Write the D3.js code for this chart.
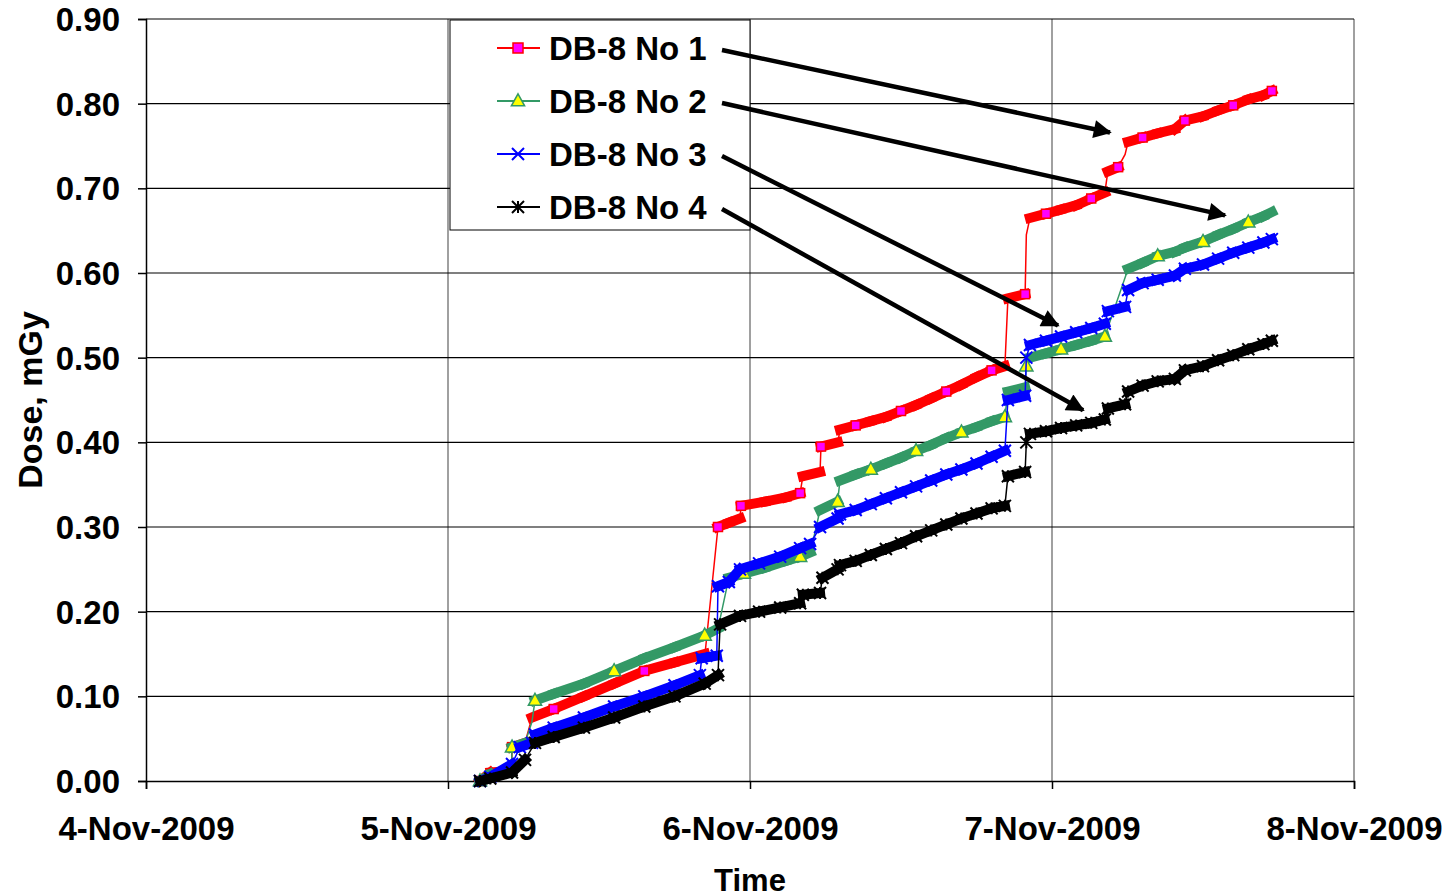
<!DOCTYPE html>
<html><head><meta charset="utf-8">
<script src="https://cdn.jsdelivr.net/npm/d3@7"></script>
<style>body{margin:0;background:#fff}text{font-family:Arial,"Liberation Sans",sans-serif;font-weight:bold}</style>
</head><body><svg id="c" width="1450" height="895"></svg>
<script>
// days since 4-Nov-2009 00:00, dose in mGy
var no1 = [[1.106,0],[1.14,0.01],[1.21,0.012],[1.212,0.04],[1.255,0.045],[1.278,0.075],[1.35,0.085],[1.45,0.10],[1.55,0.115],[1.65,0.13],[1.75,0.14],[1.851,0.15],[1.894,0.30],[1.93,0.305],[1.967,0.31],[1.97,0.325],[2.05,0.33],[2.12,0.335],[2.166,0.34],[2.175,0.36],[2.232,0.365],[2.235,0.395],[2.291,0.40],[2.298,0.415],[2.35,0.42],[2.40,0.425],[2.45,0.43],[2.50,0.437],[2.55,0.444],[2.60,0.452],[2.65,0.46],[2.70,0.468],[2.75,0.477],[2.80,0.485],[2.844,0.49],[2.854,0.57],[2.911,0.575],[2.915,0.645],[2.927,0.665],[2.98,0.67],[3.03,0.675],[3.08,0.68],[3.13,0.688],[3.175,0.695],[3.185,0.72],[3.219,0.725],[3.242,0.74],[3.252,0.755],[3.30,0.76],[3.35,0.765],[3.407,0.77],[3.44,0.78],[3.50,0.785],[3.55,0.792],[3.60,0.798],[3.65,0.805],[3.70,0.81],[3.728,0.815]];
var no2 = [[1.106,0],[1.14,0.008],[1.21,0.01],[1.212,0.04],[1.255,0.045],[1.278,0.07],[1.288,0.095],[1.35,0.103],[1.45,0.115],[1.55,0.13],[1.65,0.145],[1.75,0.158],[1.85,0.172],[1.894,0.18],[1.93,0.24],[1.98,0.245],[2.05,0.252],[2.12,0.26],[2.166,0.265],[2.20,0.27],[2.232,0.32],[2.29,0.33],[2.298,0.355],[2.35,0.362],[2.40,0.368],[2.45,0.375],[2.50,0.382],[2.55,0.39],[2.60,0.397],[2.65,0.405],[2.70,0.412],[2.75,0.418],[2.80,0.425],[2.844,0.43],[2.854,0.46],[2.911,0.465],[2.915,0.49],[2.927,0.50],[2.98,0.505],[3.03,0.51],[3.08,0.515],[3.13,0.52],[3.175,0.525],[3.252,0.605],[3.30,0.612],[3.35,0.62],[3.407,0.625],[3.44,0.63],[3.50,0.637],[3.55,0.645],[3.60,0.652],[3.65,0.66],[3.70,0.667],[3.728,0.672]];
var no3 = [[1.106,0],[1.14,0.005],[1.212,0.02],[1.238,0.04],[1.278,0.045],[1.288,0.055],[1.35,0.063],[1.45,0.075],[1.55,0.088],[1.65,0.10],[1.75,0.113],[1.834,0.125],[1.84,0.145],[1.89,0.148],[1.894,0.23],[1.93,0.235],[1.967,0.25],[2.03,0.257],[2.10,0.265],[2.166,0.275],[2.199,0.28],[2.232,0.30],[2.29,0.31],[2.298,0.315],[2.35,0.32],[2.40,0.327],[2.45,0.334],[2.50,0.341],[2.55,0.348],[2.60,0.355],[2.65,0.362],[2.70,0.368],[2.75,0.375],[2.80,0.383],[2.844,0.39],[2.854,0.45],[2.911,0.455],[2.915,0.50],[2.927,0.515],[2.98,0.52],[3.03,0.525],[3.08,0.53],[3.13,0.535],[3.175,0.54],[3.185,0.555],[3.242,0.56],[3.252,0.58],[3.30,0.588],[3.35,0.592],[3.407,0.597],[3.44,0.605],[3.50,0.61],[3.55,0.617],[3.60,0.624],[3.65,0.63],[3.70,0.636],[3.728,0.64]];
var no4 = [[1.106,0],[1.14,0.003],[1.212,0.01],[1.255,0.025],[1.288,0.045],[1.35,0.052],[1.45,0.063],[1.55,0.075],[1.65,0.088],[1.75,0.10],[1.85,0.115],[1.894,0.125],[1.901,0.185],[1.967,0.195],[2.03,0.2],[2.10,0.205],[2.166,0.21],[2.175,0.22],[2.232,0.222],[2.24,0.24],[2.29,0.25],[2.298,0.255],[2.35,0.26],[2.40,0.267],[2.45,0.274],[2.50,0.281],[2.55,0.289],[2.60,0.296],[2.65,0.303],[2.70,0.31],[2.75,0.316],[2.80,0.322],[2.844,0.325],[2.854,0.36],[2.911,0.365],[2.915,0.40],[2.927,0.41],[2.98,0.413],[3.03,0.417],[3.08,0.42],[3.13,0.423],[3.175,0.427],[3.185,0.44],[3.242,0.445],[3.252,0.46],[3.30,0.467],[3.35,0.472],[3.407,0.475],[3.44,0.485],[3.50,0.49],[3.55,0.497],[3.60,0.503],[3.65,0.51],[3.70,0.516],[3.728,0.52]];
var names = ["DB-8 No 1", "DB-8 No 2", "DB-8 No 3", "DB-8 No 4"];
var xTickLabels = ["4-Nov-2009", "5-Nov-2009", "6-Nov-2009", "7-Nov-2009", "8-Nov-2009"];
var yTicks = [0, 0.1, 0.2, 0.3, 0.4, 0.5, 0.6, 0.7, 0.8, 0.9];
// arrow tips (day, dose)
var arrowTips = [[3.192, 0.766], [3.573, 0.668], [3.020, 0.538], [3.103, 0.438]];

var series = [
  { data: no1, line: "#ff0000", fill: "#ff00ff", marker: "square" },
  { data: no2, line: "#339966", fill: "#ffff00", marker: "triangle" },
  { data: no3, line: "#0000ff", fill: "none", marker: "x" },
  { data: no4, line: "#000000", fill: "none", marker: "star" }
];

var svg = d3.select("#c");
var x = d3.scaleLinear().domain([0, 4]).range([146, 1354]);
var y = d3.scaleLinear().domain([0, 0.9]).range([781, 19]);

// grid
svg.append("g").selectAll("line").data([1, 2, 3, 4]).enter().append("line")
  .attr("x1", d => x(d)).attr("x2", d => x(d)).attr("y1", y(0.9)).attr("y2", y(0))
  .attr("stroke", "#808080").attr("stroke-width", 1.5);
svg.append("g").selectAll("line").data(yTicks.slice(1)).enter().append("line")
  .attr("x1", x(0)).attr("x2", x(4)).attr("y1", d => y(d)).attr("y2", d => y(d))
  .attr("stroke", "#000").attr("stroke-width", 1.2);

// axes
var xAxis = svg.append("g").attr("transform", "translate(0," + y(0) + ")")
  .call(d3.axisBottom(x).tickValues([0, 1, 2, 3, 4]).tickSize(8).tickFormat((d, i) => xTickLabels[i]));
var yAxis = svg.append("g").attr("transform", "translate(" + x(0) + ",0)")
  .call(d3.axisLeft(y).tickValues(yTicks).tickSize(8).tickFormat(d3.format(".2f")));
[xAxis, yAxis].forEach(function(a) {
  a.select(".domain").attr("stroke", "#000").attr("stroke-width", 1.5);
  a.selectAll(".tick line").attr("stroke", "#000").attr("stroke-width", 1.5);
  a.selectAll("text").attr("font-size", 33).attr("fill", "#000")
    .style("font-family", "Arial, 'Liberation Sans', sans-serif").style("font-weight", "bold");
});
xAxis.selectAll("text").attr("y", 28).attr("dy", "0.95em");
yAxis.selectAll("text").attr("x", -26).attr("dy", "0.35em");

svg.append("text").attr("x", 750).attr("y", 891).attr("text-anchor", "middle").attr("font-size", 31).text("Time");
svg.append("text").attr("transform", "translate(42,400) rotate(-90)").attr("text-anchor", "middle")
  .attr("font-size", 34).text("Dose, mGy");

function drawMarker(g, type, s, stroke, fill) {
  if (type == "square") {
    g.append("rect").attr("x", -s / 2).attr("y", -s / 2).attr("width", s).attr("height", s)
      .attr("fill", fill).attr("stroke", stroke).attr("stroke-width", 1.5);
  } else if (type == "triangle") {
    g.append("path").attr("d", "M0," + (-s * 0.6) + "L" + (s * 0.55) + "," + (s * 0.4) + "L" + (-s * 0.55) + "," + (s * 0.4) + "Z")
      .attr("fill", fill).attr("stroke", stroke).attr("stroke-width", 1.5);
  } else if (type == "x") {
    var h = s / 2;
    g.append("path").attr("d", "M" + -h + "," + -h + "L" + h + "," + h + "M" + h + "," + -h + "L" + -h + "," + h)
      .attr("stroke", stroke).attr("stroke-width", 2);
  } else {
    var h = s / 2;
    g.append("path").attr("d", "M" + -h + "," + -h + "L" + h + "," + h + "M" + h + "," + -h + "L" + -h + "," + h + "M0," + -h + "L0," + h)
      .attr("stroke", stroke).attr("stroke-width", 2);
  }
}

var line = d3.line().x(d => x(d[0])).y(d => y(d[1]));
series.forEach(function(s) {
  var g = svg.append("g");
  // thick band where the dense markers overlap along the slopes (not on jumps)
  d3.pairs(s.data).forEach(function(p) {
    var dt = p[1][0] - p[0][0], dv = p[1][1] - p[0][1];
    if (dt > 0.01 && dv / dt < 0.6) {
      g.append("line").attr("x1", x(p[0][0])).attr("y1", y(p[0][1])).attr("x2", x(p[1][0])).attr("y2", y(p[1][1]))
        .attr("stroke", s.line).attr("stroke-width", 10).attr("stroke-linecap", "square");
    }
  });
  g.append("path").datum(s.data).attr("d", line).attr("fill", "none").attr("stroke", s.line).attr("stroke-width", 1.5);
  s.data.forEach(function(d, i) {
    if (i % 3 != 0 && s.marker != "x" && s.marker != "star") return;
    var m = g.append("g").attr("transform", "translate(" + x(d[0]) + "," + y(d[1]) + ")");
    drawMarker(m, s.marker, s.marker == "square" ? 9 : 12, s.line, s.fill);
  });
});

// legend
var lg = svg.append("g");
lg.append("rect").attr("x", 450).attr("y", 20).attr("width", 300).attr("height", 210)
  .attr("fill", "#fff").attr("stroke", "#000").attr("stroke-width", 1);
names.forEach(function(n, i) {
  var ly = 48 + i * 53;
  lg.append("line").attr("x1", 497).attr("x2", 540).attr("y1", ly).attr("y2", ly).attr("stroke", series[i].line).attr("stroke-width", 2);
  var m = lg.append("g").attr("transform", "translate(518," + ly + ")");
  drawMarker(m, series[i].marker, series[i].marker == "square" ? 10 : 12, series[i].line, series[i].fill);
  lg.append("text").attr("x", 549).attr("y", ly + 12).attr("font-size", 33).text(n);
});

// arrows
svg.append("defs").append("marker").attr("id", "ah").attr("viewBox", "0 0 10 10").attr("refX", 9).attr("refY", 5)
  .attr("markerWidth", 6).attr("markerHeight", 4).attr("orient", "auto").attr("markerUnits", "strokeWidth")
  .append("path").attr("d", "M0,0L10,5L0,10Z").attr("fill", "#000");
arrowTips.forEach(function(t, i) {
  svg.append("line").attr("x1", 722).attr("y1", 50 + i * 53).attr("x2", x(t[0])).attr("y2", y(t[1]))
    .attr("stroke", "#000").attr("stroke-width", 4.5).attr("marker-end", "url(#ah)");
});
</script></body></html>
